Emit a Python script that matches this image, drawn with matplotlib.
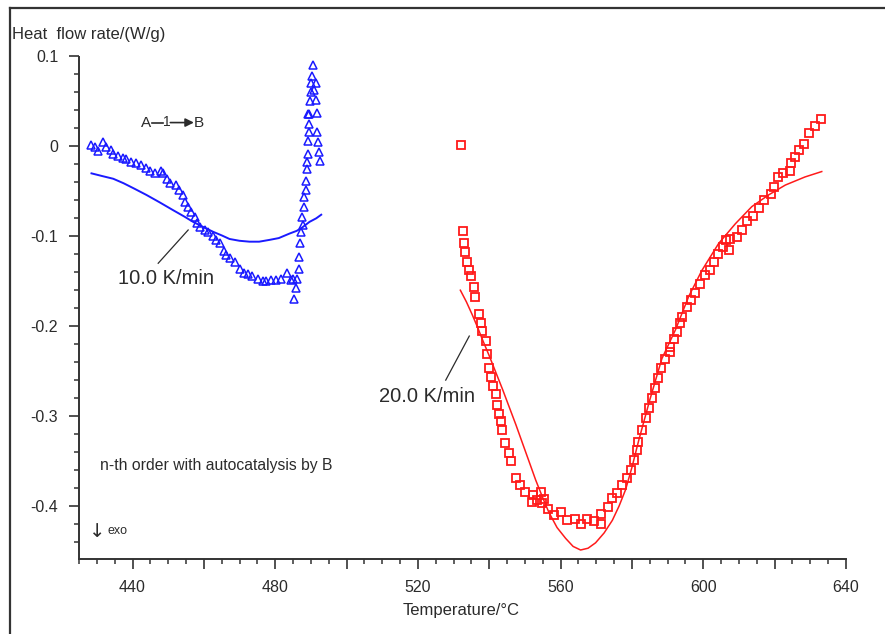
import matplotlib
matplotlib.use("Agg")
import matplotlib.pyplot as plt
from matplotlib.ticker import MultipleLocator, FuncFormatter
from matplotlib.lines import Line2D

plt.rcParams['font.family'] = ['Liberation Sans', 'DejaVu Sans']

# 10 K/min: measured heat flow (triangles) and model fit (line)
t10_meas = [428.4, 429.5, 430.4, 431.6, 432.6, 433.9, 434.6, 436.0, 437.2, 438.3,
            439.7, 440.9, 442.3, 443.7, 444.9, 446.3, 447.9, 448.6, 449.7, 450.5,
            452.3, 453.1, 454.2, 454.7, 455.6, 456.5, 457.4, 458.2, 459.0, 460.2,
            461.2, 462.6, 463.5, 464.4, 465.6, 466.3, 467.4, 468.6, 470.0, 471.2,
            472.4, 473.6, 475.2, 476.6, 477.5, 478.9, 480.3, 481.7, 483.3, 484.3,
            484.9, 486.1, 485.7, 485.4, 486.6, 486.8, 487.0, 487.3, 487.7, 487.6,
            488.2, 488.2, 488.5, 488.7, 488.9, 488.9, 489.2, 489.2, 489.4, 489.5,
            489.2, 489.5, 489.7, 489.9, 489.9, 490.2, 490.5, 491.0, 491.5, 491.3,
            491.6, 491.6, 491.9, 492.2, 492.6]
hf10_meas = [0.001, -0.001, -0.005, 0.005, -0.001, -0.004, -0.008, -0.011, -0.013, -0.014,
             -0.017, -0.019, -0.021, -0.024, -0.027, -0.030, -0.027, -0.030, -0.036, -0.041,
             -0.043, -0.049, -0.054, -0.062, -0.067, -0.073, -0.079, -0.085, -0.090, -0.093,
             -0.095, -0.100, -0.104, -0.108, -0.116, -0.121, -0.124, -0.129, -0.136, -0.141,
             -0.142, -0.144, -0.148, -0.150, -0.150, -0.149, -0.149, -0.148, -0.141, -0.149,
             -0.148, -0.147, -0.158, -0.170, -0.136, -0.123, -0.107, -0.095, -0.088, -0.079,
             -0.067, -0.056, -0.049, -0.038, -0.025, -0.017, -0.008, 0.006, 0.016, 0.025,
             0.036, 0.036, 0.051, 0.060, 0.070, 0.078, 0.090, 0.063, 0.070, 0.052,
             0.037, 0.016, 0.005, -0.006, -0.016]
t10_fit = [428.5, 431.5, 434.6, 437.5, 440.5, 443.9, 447.5, 451.4, 454.5, 457.0,
           460.0, 462.6, 465.0, 467.2, 470.0, 472.8, 475.5, 478.4, 481.0, 484.0,
           486.0, 487.3, 489.6, 491.5, 492.9]
hf10_fit = [-0.030, -0.033, -0.036, -0.041, -0.047, -0.054, -0.062, -0.071, -0.078, -0.084,
            -0.090, -0.095, -0.099, -0.103, -0.105, -0.106, -0.106, -0.104, -0.102, -0.097,
            -0.094, -0.091, -0.084, -0.080, -0.076]

# 20 K/min: measured heat flow (squares) and model fit (line)
t20_meas = [532.2, 532.7, 532.8, 533.3, 533.9, 534.2, 535.0, 535.6, 536.0, 537.2,
            537.8, 537.9, 539.0, 539.3, 539.9, 540.6, 541.1, 541.8, 542.3, 542.8,
            543.2, 543.7, 544.4, 545.4, 546.0, 547.4, 548.6, 549.9, 551.9, 552.3,
            553.5, 554.4, 554.9, 555.4, 556.6, 558.2, 560.1, 561.9, 564.1, 565.6,
            567.5, 569.3, 571.2, 571.4, 573.3, 574.3, 575.8, 577.1, 578.7, 579.6,
            580.5, 581.5, 581.8, 582.8, 583.9, 584.7, 585.6, 586.4, 587.2, 588.1,
            589.2, 590.6, 590.7, 591.7, 592.6, 593.6, 594.0, 595.4, 596.6, 597.8,
            599.2, 600.6, 601.8, 602.9, 604.0, 605.4, 606.3, 607.1, 607.4, 609.4,
            610.8, 612.2, 613.9, 615.5, 617.1, 618.9, 619.9, 620.9, 622.3, 624.3,
            624.6, 625.6, 626.9, 628.1, 629.5, 631.4, 633.0]
hf20_meas = [0.001, -0.094, -0.107, -0.118, -0.129, -0.137, -0.144, -0.156, -0.168, -0.186,
             -0.196, -0.205, -0.217, -0.231, -0.247, -0.257, -0.266, -0.276, -0.288, -0.298,
             -0.306, -0.315, -0.330, -0.341, -0.350, -0.369, -0.377, -0.384, -0.396, -0.388,
             -0.393, -0.385, -0.397, -0.392, -0.403, -0.410, -0.407, -0.416, -0.415, -0.420,
             -0.415, -0.417, -0.420, -0.409, -0.401, -0.391, -0.386, -0.377, -0.369, -0.360,
             -0.349, -0.338, -0.329, -0.316, -0.302, -0.291, -0.280, -0.269, -0.258, -0.247,
             -0.236, -0.229, -0.223, -0.214, -0.206, -0.197, -0.190, -0.179, -0.171, -0.163,
             -0.153, -0.143, -0.137, -0.129, -0.120, -0.112, -0.104, -0.115, -0.103, -0.101,
             -0.093, -0.083, -0.077, -0.069, -0.060, -0.053, -0.045, -0.034, -0.030, -0.027,
             -0.019, -0.012, -0.004, 0.003, 0.015, 0.023, 0.031]
t20_fit = [531.9, 533.6, 535.2, 536.7, 538.1, 540.0, 541.8, 543.7, 545.6, 547.5,
           549.3, 551.2, 553.0, 554.9, 556.7, 559.0, 561.4, 563.5, 565.6, 567.7,
           569.8, 572.2, 574.5, 576.4, 578.2, 580.0, 581.9, 585.0, 588.4, 592.2,
           595.9, 599.6, 604.3, 609.0, 613.6, 618.3, 623.0, 628.5, 633.2]
hf20_fit = [-0.160, -0.173, -0.187, -0.201, -0.215, -0.233, -0.251, -0.270, -0.290, -0.310,
            -0.330, -0.351, -0.371, -0.390, -0.407, -0.424, -0.436, -0.445, -0.449, -0.447,
            -0.441, -0.430, -0.416, -0.400, -0.382, -0.357, -0.327, -0.282, -0.236, -0.204,
            -0.167, -0.138, -0.108, -0.086, -0.067, -0.054, -0.043, -0.034, -0.028]

x_ticks = [440, 480, 520, 560, 600, 640]
y_ticks = [0.1, 0, -0.1, -0.2, -0.3, -0.4]

BLUE = '#1a1aff'
RED = '#ff1a1a'
INK = '#2b2b2b'

fig = plt.figure(figsize=(8.85, 6.34), dpi=100)
ax = fig.add_axes([79 / 885, 75 / 634, 767 / 885, 502.5 / 634])

ax.plot(t10_meas, hf10_meas, linestyle='none', marker='^', markersize=5.3,
        markerfacecolor='none', markeredgecolor=BLUE, markeredgewidth=1.1)
ax.plot(t10_fit, hf10_fit, color=BLUE, linewidth=1.4)
ax.plot(t20_meas, hf20_meas, linestyle='none', marker='s', markersize=5.8,
        markerfacecolor='none', markeredgecolor=RED, markeredgewidth=1.3)
ax.plot(t20_fit, hf20_fit, color=RED, linewidth=1.1)

ax.set_xlim(425, 640)
ax.set_ylim(-0.459, 0.1)

for side in ('top', 'right'):
    ax.spines[side].set_visible(False)
for side in ('left', 'bottom'):
    ax.spines[side].set_color('#333333')
    ax.spines[side].set_linewidth(1.4)

ax.xaxis.set_major_locator(MultipleLocator(20))
ax.xaxis.set_minor_locator(MultipleLocator(5))
ax.xaxis.set_major_formatter(FuncFormatter(
    lambda v, p: f"{int(round(v))}" if int(round(v)) in x_ticks else ""))
ax.yaxis.set_major_locator(MultipleLocator(0.1))
ax.yaxis.set_minor_locator(MultipleLocator(0.02))
ax.yaxis.set_major_formatter(FuncFormatter(
    lambda v, p: ("0" if abs(v) < 1e-9 else f"{v:.1f}")))

ax.tick_params(axis='both', which='major', direction='out', length=7,
               width=1.2, color='#333333', labelsize=11.5, labelcolor=INK, pad=8)
ax.tick_params(axis='both', which='minor', direction='out', length=3.5,
               width=1.1, color='#333333')

# Axis titles
fig.text(12 / 885, 1 - 34 / 634, "Heat  flow rate/(W/g)", fontsize=12,
         color=INK, ha='left', va='center')
fig.text(403 / 885, 1 - 610 / 634, "Temperature/°C", fontsize=12,
         color=INK, ha='left', va='center')

# Reaction scheme A -1-> B
ax.text(442.4, 0.026, "A", fontsize=11, color=INK, ha='left', va='center')
ax.plot([445.4, 448.5], [0.0265, 0.0265], color=INK, linewidth=1.2)
ax.text(449.5, 0.0275, "1", fontsize=10, color=INK, ha='center', va='center')
ax.annotate("", xy=(457.2, 0.0265), xytext=(450.6, 0.0265),
            arrowprops=dict(arrowstyle='-|>,head_length=0.5,head_width=0.25',
                            color=INK, linewidth=1.2, shrinkA=0, shrinkB=0))
ax.text(457.3, 0.026, "B", fontsize=11, color=INK, ha='left', va='center')

# Heating-rate labels with leader lines
ax.text(435.9, -0.147, "10.0 K/min", fontsize=14.5, color=INK, ha='left', va='center')
ax.plot([447.2, 455.6], [-0.130, -0.093], color=INK, linewidth=0.9)
ax.text(509.2, -0.278, "20.0 K/min", fontsize=14.5, color=INK, ha='left', va='center')
ax.plot([527.8, 534.4], [-0.260, -0.211], color=INK, linewidth=0.9)

ax.text(430.9, -0.355, "n-th order with autocatalysis by B", fontsize=11.3,
        color=INK, ha='left', va='center')
ax.text(427.7, -0.428, "\u2193", fontsize=14, color=INK, ha='left', va='center',
        family=['DejaVu Sans'])
ax.text(433.0, -0.428, "exo", fontsize=9, color=INK, ha='left', va='center')

# Frame lines along the top and left edge of the figure
fig.add_artist(Line2D([10 / 885, 10 / 885], [0, 1 - 8 / 634], color='#333333',
                      linewidth=1.6, transform=fig.transFigure))
fig.add_artist(Line2D([10 / 885, 1], [1 - 8 / 634, 1 - 8 / 634], color='#333333',
                      linewidth=1.6, transform=fig.transFigure))

fig.savefig("out.png", dpi=100)
